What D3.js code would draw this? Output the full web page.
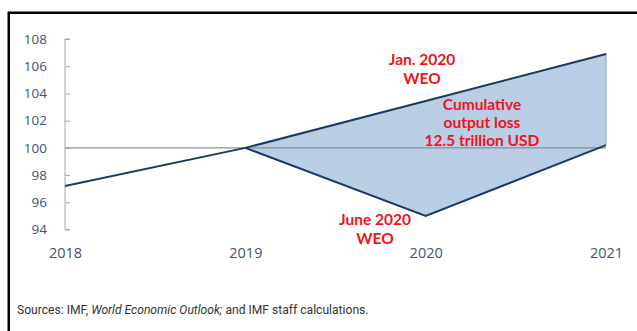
<!DOCTYPE html>
<html>
<head>
<meta charset="utf-8">
<script src="https://cdn.jsdelivr.net/npm/d3@7"></script>
<style>
  html, body { margin: 0; padding: 0; background: #fff; }
  svg { display: block; }
</style>
</head>
<body>
<script>
// GDP index (2019 = 100), two WEO vintages
const years = [2018, 2019, 2020, 2021];
const janWEO = [97.2, 100, 103.45, 106.9];
const juneWEO = [null, 100, 95.0, 100.2];
const yTicks = [94, 96, 98, 100, 102, 104, 106, 108];
const janLabel = ["Jan. 2020", "WEO"];
const juneLabel = ["June 2020", "WEO"];
const lossLabel = ["Cumulative", "output loss", "12.5 trillion USD"];
const sourceNote = "Sources: IMF, ";

const W = 637, H = 331;
const svg = d3.select("body").append("svg").attr("width", W).attr("height", H);

// frame
svg.append("rect")
  .attr("x", 8.75).attr("y", 12.75)
  .attr("width", W + 10).attr("height", H + 10)
  .attr("fill", "none").attr("stroke", "#000").attr("stroke-width", 2.5);

const x = d3.scaleLinear().domain([2018, 2021]).range([65, 606]);
const y = d3.scaleLinear().domain([94, 108]).range([229.5, 39]);

const navy = "#1f3a60";
const tickColor = "#44546a";

// shaded gap between the two forecasts
const jan = years.map((yr, i) => ({ yr, v: janWEO[i] }));
const june = years.map((yr, i) => ({ yr, v: juneWEO[i] })).filter(d => d.v != null);
const gapPts = jan.filter(d => d.yr >= 2019).concat(june.slice().reverse());
svg.append("path")
  .attr("d", d3.line().x(d => x(d.yr)).y(d => y(d.v))(gapPts) + "Z")
  .attr("fill", "#b9cde5")
  .attr("stroke", "#7f93ad").attr("stroke-width", 0.8);

// baseline at 100
svg.append("line")
  .attr("x1", x(2018)).attr("x2", x(2021))
  .attr("y1", y(100)).attr("y2", y(100))
  .attr("stroke", "#8a8f96").attr("stroke-width", 1.3);

// y axis
const yAxis = d3.axisRight(y).tickValues(yTicks).tickSize(5).tickFormat("");
const ya = svg.append("g").attr("transform", `translate(${x(2018)},0)`).call(yAxis);
ya.select(".domain").attr("stroke", "#a6a6a6").attr("d", `M5,${y(108)}H0V${y(94)}H5`);
ya.selectAll(".tick line").attr("stroke", "#a6a6a6");

svg.append("g").selectAll("text").data(yTicks).join("text")
  .attr("x", 47).attr("y", d => y(d)).attr("dy", "0.35em")
  .attr("text-anchor", "end")
  .attr("font-family", "Open Sans").attr("font-size", 13.5)
  .attr("fill", tickColor).text(d => d);

// x axis labels
const xAxis = d3.axisBottom(x).tickValues(years).tickSize(0).tickFormat(d3.format("d"));
const xa = svg.append("g").attr("transform", "translate(0,243)").call(xAxis);
xa.select(".domain").remove();
xa.selectAll("text")
  .attr("font-family", "Open Sans").attr("font-size", 14.5)
  .attr("fill", tickColor).attr("dy", "0.35em").attr("y", 10);

// forecast lines
const line = d3.line().x(d => x(d.yr)).y(d => y(d.v));
svg.append("path").attr("d", line(jan))
  .attr("fill", "none").attr("stroke", navy).attr("stroke-width", 2);
svg.append("path").attr("d", line(june))
  .attr("fill", "none").attr("stroke", navy).attr("stroke-width", 2);

// annotations
function redLabel(lines, cx, cy, lh) {
  const t = svg.append("text")
    .attr("text-anchor", "middle")
    .attr("font-family", "Lato").attr("font-weight", 700).attr("font-size", 15.5)
    .attr("fill", "#f2121b");
  lines.forEach((s, i) => t.append("tspan").attr("x", cx).attr("y", cy + i * lh).attr("dy", "0.35em").text(s));
}
redLabel(janLabel, 422, 60, 19);
redLabel(lossLabel, 482, 105, 18);
redLabel(juneLabel, 375, 220, 18.5);

// source note
const src = svg.append("text")
  .attr("x", 17).attr("y", 310).attr("dy", "0.35em")
  .attr("font-family", "Roboto").attr("font-size", 12.1)
  .attr("fill", "#333");
src.append("tspan").text(sourceNote);
src.append("tspan").attr("font-style", "italic").text("World Economic Outlook;");
src.append("tspan").text(" and IMF staff calculations.");
</script>
</body>
</html>
